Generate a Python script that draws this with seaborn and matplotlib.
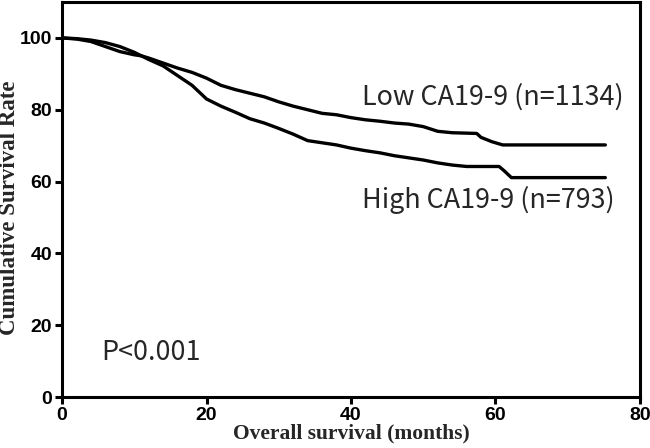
import numpy as np
import pandas as pd
import matplotlib
matplotlib.use('Agg')
import matplotlib.pyplot as plt
import seaborn as sns

# survival curves (months, %)
low_t = [0, 2, 4, 6, 8, 10, 11, 12, 14, 16, 18, 20, 22, 24, 26, 28, 30, 32, 34, 36,
         38, 40, 42, 44, 46, 48, 50, 52, 54, 57.4, 58, 59.5, 61, 75.2]
low_s = [100, 99.8, 99.4, 98.7, 97.6, 96.0, 95.0, 94.4, 93.0, 91.6, 90.4, 88.8, 86.8,
         85.6, 84.6, 83.6, 82.2, 81.0, 80.0, 79.0, 78.6, 77.8, 77.2, 76.8, 76.3, 76.0,
         75.3, 74.0, 73.6, 73.4, 72.3, 71.1, 70.2, 70.2]
high_t = [0, 2, 4, 6, 8, 10, 11, 12, 14, 16, 18, 20, 22, 24, 26, 28, 30, 32, 34, 36,
          38, 40, 42, 44, 46, 48, 50, 52, 54, 56, 60.5, 61.2, 62.2, 75.2]
high_s = [100, 99.7, 99.0, 97.6, 96.2, 95.3, 95.0, 94.0, 92.2, 89.5, 86.8, 83.0, 81.0,
          79.3, 77.5, 76.3, 74.8, 73.2, 71.4, 70.8, 70.2, 69.3, 68.6, 68.0, 67.2, 66.6,
          66.0, 65.2, 64.6, 64.2, 64.2, 63.0, 61.1, 61.1]

labels = ['Low CA19-9 (n=1134)', 'High CA19-9 (n=793)']
p_text = 'P<0.001'

df = pd.concat([
    pd.DataFrame({'t': low_t, 's': low_s, 'grp': 'low'}),
    pd.DataFrame({'t': high_t, 's': high_s, 'grp': 'high'}),
])

sns.set_style('ticks')
fig = plt.figure(figsize=(6.5, 4.48), dpi=100)
ax = fig.add_axes([0.0954, 0.1138, 0.8892, 0.8817])

sns.lineplot(data=df, x='t', y='s', units='grp', estimator=None, color='black',
             linewidth=2.4, ax=ax, sort=False)

ax.set_xlim(0, 80)
ax.set_ylim(0, 110)
ax.set_xticks([0, 20, 40, 60, 80])
ax.set_yticks([0, 20, 40, 60, 80, 100])
for s in ax.spines.values():
    s.set_linewidth(2.2)
    s.set_color('black')
ax.tick_params(direction='out', length=5, width=2.2, color='black', top=False, right=False, pad=2)
for lab in ax.get_xticklabels() + ax.get_yticklabels():
    lab.set_fontfamily('Liberation Sans')
    lab.set_fontweight('bold')
    lab.set_fontsize(14)
    lab.set_color('black')

ax.set_xlabel('Overall survival (months)', fontfamily='Liberation Serif', fontweight='bold',
              fontsize=15.5, labelpad=0)
ax.set_ylabel('Cumulative Survival Rate', fontfamily='Liberation Serif', fontweight='bold',
              fontsize=16.5, labelpad=2)
ax.yaxis.set_label_coords(-0.072, 0.478)

txt_font = ['Noto Sans CJK SC', 'DejaVu Sans']
ax.text(41.5, 83.6, labels[0], fontsize=19.4, family=txt_font, va='center', ha='left')
ax.text(41.5, 54.9, labels[1], fontsize=19.4, family=txt_font, va='center', ha='left')
ax.text(5.5, 12.3, p_text, fontsize=19.4, family=txt_font, va='center', ha='left')

fig.savefig('out.png', dpi=100)
